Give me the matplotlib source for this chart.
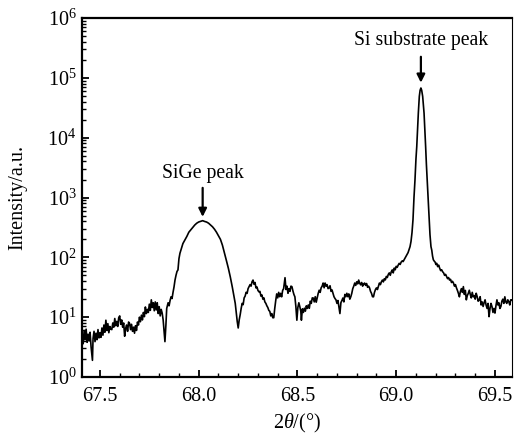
import matplotlib
matplotlib.use("Agg")
import matplotlib.pyplot as plt
from matplotlib.ticker import LogLocator, MultipleLocator, FixedLocator, NullFormatter

plt.rcParams['font.family'] = ['Liberation Serif', 'DejaVu Serif']
plt.rcParams['mathtext.fontset'] = 'custom'
plt.rcParams['mathtext.rm'] = 'Liberation Serif'
plt.rcParams['mathtext.it'] = 'Liberation Serif:italic'
plt.rcParams['mathtext.bf'] = 'Liberation Serif:bold'

two_theta = [
    67.410, 67.415, 67.420, 67.425, 67.430, 67.435, 67.440, 67.445, 67.450, 67.455,
    67.462, 67.465, 67.470, 67.475, 67.480, 67.485, 67.490, 67.495, 67.500, 67.505,
    67.510, 67.515, 67.520, 67.525, 67.530, 67.535, 67.540, 67.545, 67.550, 67.555,
    67.560, 67.565, 67.570, 67.575, 67.580, 67.585, 67.590, 67.595, 67.600, 67.605,
    67.610, 67.615, 67.620, 67.625, 67.630, 67.635, 67.640, 67.645, 67.650, 67.655,
    67.660, 67.665, 67.670, 67.675, 67.680, 67.685, 67.690, 67.695, 67.700, 67.705,
    67.710, 67.715, 67.720, 67.725, 67.730, 67.735, 67.740, 67.745, 67.750, 67.755,
    67.760, 67.765, 67.770, 67.775, 67.780, 67.785, 67.790, 67.795, 67.800, 67.805,
    67.810, 67.815, 67.820, 67.825, 67.829, 67.834, 67.838, 67.845, 67.850, 67.855,
    67.860, 67.865, 67.870, 67.875, 67.880, 67.885, 67.890, 67.895,
    67.900, 67.905, 67.910, 67.920, 67.930, 67.940, 67.950, 67.960, 67.970, 67.980,
    67.990, 68.000, 68.010, 68.020, 68.030, 68.040, 68.050, 68.060, 68.070, 68.080,
    68.090, 68.100, 68.110, 68.120, 68.130, 68.140, 68.150, 68.160, 68.170, 68.180,
    68.185, 68.190, 68.195, 68.200, 68.205, 68.210, 68.215, 68.220, 68.225, 68.230,
    68.235, 68.240, 68.245, 68.250, 68.255, 68.260, 68.265, 68.270, 68.275, 68.280,
    68.285, 68.290, 68.295, 68.300, 68.305, 68.310, 68.315, 68.320, 68.325, 68.330,
    68.335, 68.340, 68.345, 68.350, 68.355, 68.360, 68.365, 68.370, 68.375, 68.380,
    68.385, 68.390, 68.395, 68.400, 68.405, 68.410, 68.415, 68.420, 68.425, 68.430,
    68.437, 68.442, 68.447, 68.452, 68.457, 68.462, 68.467, 68.472, 68.477, 68.482,
    68.487, 68.492, 68.497, 68.502, 68.507, 68.512, 68.517, 68.520, 68.525, 68.530,
    68.535, 68.540, 68.545, 68.550, 68.555, 68.560, 68.565, 68.570, 68.575, 68.580,
    68.585, 68.590, 68.595, 68.600, 68.605, 68.610, 68.615, 68.620, 68.625, 68.630,
    68.635, 68.640, 68.645, 68.650, 68.655, 68.660, 68.665, 68.670, 68.675, 68.680,
    68.685, 68.690, 68.695, 68.700, 68.705, 68.710, 68.715, 68.720, 68.725, 68.730,
    68.735, 68.740, 68.745, 68.750, 68.755, 68.760, 68.765, 68.770, 68.775, 68.780,
    68.785, 68.790, 68.795, 68.800, 68.805, 68.810, 68.815, 68.820, 68.825, 68.830,
    68.835, 68.840, 68.845, 68.850, 68.855, 68.860, 68.865, 68.870, 68.875, 68.880,
    68.885, 68.890, 68.895, 68.900, 68.905, 68.910, 68.915, 68.920, 68.925, 68.930,
    68.935, 68.940, 68.945, 68.950, 68.955, 68.960, 68.965, 68.970, 68.975, 68.980,
    68.985, 68.990, 68.995, 69.000, 69.005, 69.010, 69.015, 69.020, 69.025, 69.030,
    69.035, 69.040, 69.045, 69.050, 69.055, 69.060, 69.065, 69.070, 69.075, 69.080,
    69.085, 69.090, 69.095, 69.100, 69.104, 69.108, 69.112, 69.117, 69.121, 69.125,
    69.129, 69.134, 69.138, 69.141, 69.145, 69.149, 69.153, 69.157, 69.162, 69.167,
    69.171, 69.176, 69.180, 69.184, 69.188, 69.192, 69.197, 69.201, 69.205, 69.210,
    69.215, 69.220, 69.225, 69.230, 69.235, 69.240, 69.245, 69.250, 69.255, 69.260,
    69.265, 69.270, 69.275, 69.280, 69.285, 69.290, 69.295, 69.300, 69.305, 69.310,
    69.315, 69.320, 69.325, 69.330, 69.335, 69.340, 69.345, 69.350, 69.355, 69.360,
    69.365, 69.370, 69.375, 69.380, 69.385, 69.390, 69.395, 69.400, 69.405, 69.410,
    69.415, 69.420, 69.425, 69.430, 69.435, 69.440, 69.445, 69.450, 69.455, 69.460,
    69.465, 69.470, 69.475, 69.480, 69.485, 69.490, 69.495, 69.500, 69.505, 69.510,
    69.515, 69.520, 69.525, 69.530, 69.535, 69.540, 69.545, 69.550, 69.555, 69.560,
    69.565, 69.570, 69.575, 69.580, 69.585,
]

intensity = [
    5.0, 3.6, 6.0, 4.2, 6.3, 3.8, 5.2, 4.0, 5.6, 3.2,
    1.9, 4.4, 5.8, 3.9, 5.4, 4.2, 6.2, 4.5, 5.5, 4.6,
    6.6, 5.0, 7.4, 5.6, 8.9, 6.0, 7.8, 5.5, 7.0, 6.3,
    6.2, 8.0, 6.8, 9.5, 7.2, 8.5, 7.0, 9.8, 10.5, 7.6,
    9.0, 6.8, 8.0, 4.8, 6.5, 7.4, 5.8, 8.3, 7.9, 6.2,
    7.6, 5.8, 6.8, 5.4, 7.2, 6.0, 8.3, 7.4, 10.0, 8.4,
    10.8, 9.0, 12.0, 10.2, 14.8, 11.5, 13.5, 12.0, 16.5, 13.0,
    19.5, 14.5, 17.4, 12.8, 18.0, 13.2, 17.4, 11.5, 15.0, 10.5,
    13.5, 11.7, 9.0, 5.5, 3.9, 7.5, 14.0, 17.4, 15.5, 19.0,
    21.9, 20.5, 26.0, 32.0, 41.7, 50.0, 58.0, 61.7,
    95.0, 117.0, 132.0, 170.0, 195.0, 224.0, 263.0, 288.0, 316.0, 347.0,
    372.0, 390.0, 400.0, 410.0, 398.0, 389.0, 372.0, 347.0, 324.0, 295.0,
    263.0, 229.0, 200.0, 160.0, 120.0, 89.0, 66.0, 47.0, 32.0, 21.0,
    17.0, 12.0, 8.5, 6.6, 9.0, 11.0, 14.0, 17.0, 16.2, 21.0,
    22.5, 26.0, 25.0, 30.0, 32.4, 35.0, 33.0, 39.0, 41.7, 35.5,
    38.0, 30.9, 32.0, 28.0, 26.5, 27.0, 22.5, 23.5, 20.0, 21.0,
    18.0, 17.0, 15.5, 14.5, 13.0, 12.5, 10.5, 11.5, 9.8, 9.8,
    14.0, 19.0, 24.5, 21.0, 26.0, 22.0, 25.0, 21.9, 28.0, 30.0,
    45.7, 29.0, 33.0, 25.1, 30.0, 27.0, 33.0, 32.4, 27.5, 24.0,
    21.9, 15.0, 8.9, 14.5, 17.4, 15.0, 12.5, 8.9, 13.8, 12.0,
    14.1, 12.6, 15.5, 14.0, 16.0, 14.1, 18.5, 17.0, 21.0, 20.9,
    18.0, 22.0, 17.8, 21.0, 25.0, 28.2, 26.0, 31.0, 33.0, 37.2,
    31.0, 37.2, 33.0, 35.0, 30.0, 30.9, 33.5, 27.0, 28.5, 25.1,
    22.0, 20.5, 19.5, 17.0, 19.0, 14.8, 11.5, 17.5, 19.0, 20.9,
    18.0, 24.0, 22.0, 25.1, 22.0, 24.5, 20.0, 21.9, 25.0, 30.0,
    33.0, 37.2, 34.0, 39.0, 36.0, 41.7, 37.0, 34.7, 38.0, 33.0,
    36.0, 37.2, 34.0, 36.5, 31.6, 33.0, 30.9, 27.0, 25.0, 22.0,
    21.9, 26.0, 29.0, 30.9, 29.0, 33.0, 37.2, 35.0, 39.0, 41.7,
    38.9, 44.0, 42.0, 48.0, 46.0, 52.0, 55.0, 50.1, 57.5, 61.7,
    55.0, 66.1, 62.0, 70.8, 68.0, 74.1, 79.4, 76.0, 83.2, 87.0,
    85.0, 91.2, 97.0, 105.0, 112.0, 120.0, 135.0, 151.0, 185.0, 260.0,
    427.0, 1000.0, 1950.0, 4400.0, 7080.0, 14000.0, 25700.0, 49000.0, 62000.0, 67600.0,
    62000.0, 49000.0, 34000.0, 25700.0, 14000.0, 7080.0, 3500.0, 1950.0, 900.0, 427.0,
    240.0, 151.0, 132.0, 105.0, 91.2, 87.0, 83.2, 76.0, 79.4, 70.0,
    74.1, 66.0, 60.0, 62.0, 57.5, 55.0, 50.0, 52.0, 47.9, 44.0,
    46.0, 41.7, 43.0, 38.0, 39.8, 37.2, 33.0, 35.0, 30.9, 28.0,
    25.0, 21.9, 27.0, 30.0, 26.0, 32.4, 24.0, 28.0, 19.5, 23.0,
    25.0, 28.2, 24.0, 21.0, 26.0, 21.9, 23.0, 20.0, 25.1, 22.0,
    18.5, 19.5, 22.0, 16.0, 18.0, 15.1, 17.5, 19.5, 16.0, 14.0,
    17.0, 10.2, 14.0, 17.0, 15.0, 12.0, 14.0, 11.7, 15.5, 19.5,
    16.0, 17.4, 14.0, 15.1, 18.5, 20.0, 17.0, 21.9, 18.0, 17.0,
    19.5, 18.2, 16.0, 19.5, 19.5,
]

x_ticks = [67.5, 68.0, 68.5, 69.0, 69.5]
x_tick_labels = ['67.5', '68.0', '68.5', '69.0', '69.5']
y_ticks = [1e0, 1e1, 1e2, 1e3, 1e4, 1e5, 1e6]
y_tick_labels = [r'$10^{0}$', r'$10^{1}$', r'$10^{2}$', r'$10^{3}$',
                 r'$10^{4}$', r'$10^{5}$', r'$10^{6}$']

# label, peak position, arrow tip intensity, arrow tail intensity, text intensity
annotations = [
    ("SiGe peak", 68.02, 475.0, 1450.0, 1750.0),
    ("Si substrate peak", 69.125, 83000.0, 225000.0, 290000.0),
]

fig = plt.figure(figsize=(5.14, 4.34), dpi=100)
ax = fig.add_axes([0.1595, 0.1313, 0.8365, 0.8272])

ax.plot(two_theta, intensity, color='black', lw=1.2)
ax.set_yscale('log')
ax.set_xlim(67.409, 69.586)
ax.set_ylim(1, 1e6)

ax.xaxis.set_major_locator(FixedLocator(x_ticks))
ax.set_xticklabels(x_tick_labels)
ax.xaxis.set_minor_locator(MultipleLocator(0.1))
ax.yaxis.set_major_locator(FixedLocator(y_ticks))
ax.set_yticklabels(y_tick_labels)
ax.yaxis.set_minor_locator(LogLocator(base=10, subs=range(2, 10), numticks=20))
ax.yaxis.set_minor_formatter(NullFormatter())

ax.tick_params(which='both', direction='in', top=False, right=False,
               labelsize=14.5, colors='black')
ax.tick_params(axis='x', which='major', pad=7)
ax.tick_params(axis='y', which='major', pad=4)
ax.tick_params(which='major', length=5, width=1.3)
ax.tick_params(which='minor', length=3, width=1.0)

for side in ['left', 'bottom', 'top']:
    ax.spines[side].set_linewidth(1.6)
ax.spines['right'].set_linewidth(0.8)

ax.set_xlabel(r'$2\theta/(°)$', fontsize=14.5)
ax.xaxis.set_label_coords(0.5, -0.097)
ax.set_ylabel('Intensity/a.u.', fontsize=14.5)
ax.yaxis.set_label_coords(-0.128, 0.5)

for label, xv, tip, tail, ytext in annotations:
    ax.annotate('', xy=(xv, tip), xytext=(xv, tail), textcoords='data',
                arrowprops=dict(arrowstyle='-|>', color='black', lw=1.6,
                                mutation_scale=12, shrinkA=0, shrinkB=0))
    ax.text(xv, ytext, label, ha='center', va='bottom', fontsize=14.2)

fig.savefig('out.png', dpi=100)
